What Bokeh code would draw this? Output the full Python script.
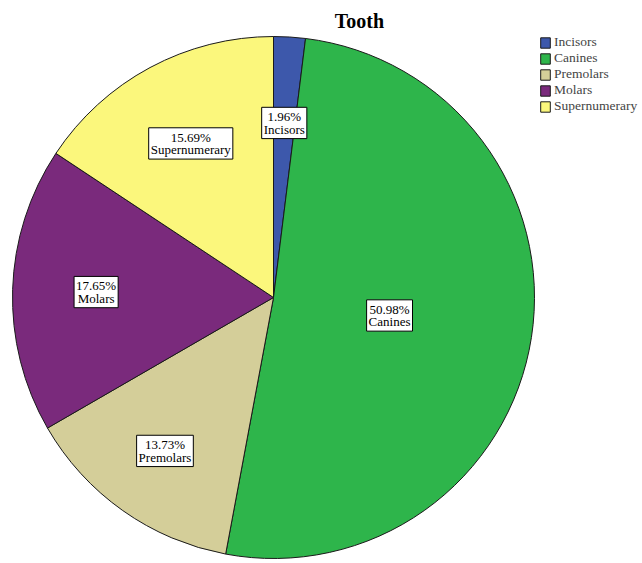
import numpy as np
from bokeh.plotting import figure
from bokeh.models import ColumnDataSource, Legend, LegendItem, Range1d
from bokeh.core.properties import value
from bokeh.embed import file_html
from bokeh.resources import INLINE

# ---- data ----
categories = ["Incisors", "Canines", "Premolars", "Molars", "Supernumerary"]
percents = [1.96, 50.98, 13.73, 17.65, 15.69]
colors = ["#3D58AB", "#2EB54B", "#D4CE99", "#7A2A7C", "#FBF77C"]
label_radius_frac = [0.67, 0.45, 0.72, 0.68, 0.67]
title_text = "Tooth"

SERIF = "'Liberation Serif', 'Times New Roman', serif"

# ---- layout (pixel-like data space) ----
W, H = 642, 563
cx, cy = 273, 266   # pie centre
R = 261

p = figure(width=W, height=H, output_backend="svg", toolbar_location=None,
           x_range=Range1d(0, W), y_range=Range1d(0, H),
           min_border=0, outline_line_color=None)
p.axis.visible = False
p.grid.visible = False
p.background_fill_color = "white"

frac = np.array(percents) / np.sum(percents)
cum = np.concatenate([[0], np.cumsum(frac)])
start = np.pi / 2 - 2 * np.pi * cum[:-1]
end = np.pi / 2 - 2 * np.pi * cum[1:]
mid = (start + end) / 2

src = ColumnDataSource(dict(cat=categories, start=start, end=end, color=colors))
r = p.wedge(x=cx, y=cy, radius=R, start_angle="start", end_angle="end",
            direction="clock", fill_color="color", line_color="#1a1a1a",
            line_width=1, source=src)

lx = cx + np.array(label_radius_frac) * R * np.cos(mid)
ly = cy + np.array(label_radius_frac) * R * np.sin(mid)
labels = [f"{v:.2f}%\n{c}" for v, c in zip(percents, categories)]
lsrc = ColumnDataSource(dict(x=lx, y=ly, t=labels))
p.text(x="x", y="y", text="t", source=lsrc, text_font=value(SERIF),
       text_font_size="13px", text_align="center", text_baseline="middle",
       text_line_height=0.82, text_color="black",
       background_fill_color="white", border_line_color="black",
       border_line_width=1, padding=2)

p.text(x=[359], y=[543], text=[title_text], text_font=value(SERIF),
       text_font_size="20px", text_font_style="bold", text_align="center",
       text_baseline="middle", text_color="black")

items = [LegendItem(label=c, renderers=[r], index=i) for i, c in enumerate(categories)]
legend = Legend(items=items, location=(539, 449), orientation="vertical",
                label_text_font=SERIF, label_text_font_size="13.5px",
                glyph_width=12, glyph_height=13, label_height=13, spacing=0,
                padding=0, margin=0, label_standoff=3,
                border_line_color=None, background_fill_alpha=0)
p.add_layout(legend, "center")

open("out.html", "w").write(file_html(p, INLINE))
